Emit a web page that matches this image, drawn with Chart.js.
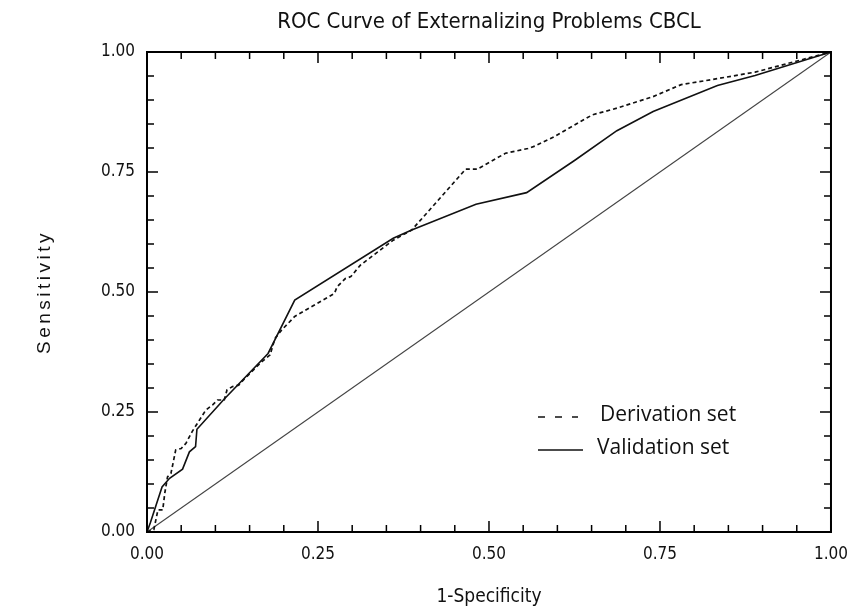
<!DOCTYPE html>
<html>
<head>
<meta charset="utf-8">
<script src="https://cdn.jsdelivr.net/npm/chart.js@4.4.0/dist/chart.umd.min.js"></script>
<style>
    html, body { margin: 0; padding: 0; background: #fff; }
    #wrap { width: 860px; height: 611px; }
</style>
</head>
<body>
<div id="wrap"><canvas id="roc"></canvas></div>
<script>
(function () {

    // ROC points (1-specificity, sensitivity)
    const derivationX = [0, 0.010, 0.016, 0.023, 0.026, 0.030, 0.035, 0.042, 0.050, 0.057, 0.066, 0.069, 0.086, 0.096, 0.103, 0.113, 0.117, 0.125, 0.134, 0.141, 0.168, 0.180, 0.187, 0.197, 0.216, 0.274, 0.278, 0.290, 0.298, 0.312, 0.360, 0.387, 0.466, 0.483, 0.524, 0.557, 0.567, 0.596, 0.651, 0.687, 0.740, 0.781, 0.836, 0.889, 1];
    const derivationY = [0, 0.005, 0.046, 0.046, 0.081, 0.115, 0.122, 0.171, 0.174, 0.185, 0.209, 0.216, 0.254, 0.265, 0.275, 0.275, 0.296, 0.303, 0.306, 0.317, 0.355, 0.369, 0.403, 0.421, 0.449, 0.497, 0.511, 0.528, 0.532, 0.556, 0.608, 0.629, 0.756, 0.756, 0.789, 0.799, 0.804, 0.824, 0.869, 0.883, 0.907, 0.932, 0.945, 0.958, 1];

    const validationX = [0, 0.005, 0.022, 0.033, 0.052, 0.062, 0.071, 0.073, 0.113, 0.177, 0.216, 0.360, 0.387, 0.481, 0.555, 0.625, 0.687, 0.740, 0.834, 0.889, 1];
    const validationY = [0, 0.020, 0.094, 0.112, 0.131, 0.167, 0.178, 0.214, 0.277, 0.372, 0.483, 0.612, 0.629, 0.683, 0.707, 0.774, 0.836, 0.876, 0.930, 0.951, 1];

    const chanceX = [0, 1];
    const chanceY = [0, 1];

    const tickLabels = ['0.00', '0.25', '0.50', '0.75', '1.00'];

    const narrow = '"Liberation Sans Narrow", "Arial Narrow", "DejaVu Sans Condensed", sans-serif';

    let pts = function (xs, ys) {
        return xs.map(function (v, i) {
            return {x: v, y: ys[i]};
        });
    };

    // inward ticks on all four sides + frame
    const frame = {
        id: 'frame',
        afterDraw: function (chart) {
            const ctx = chart.ctx;
            const a = chart.chartArea;
            const sx = chart.scales.x, sy = chart.scales.y;
            ctx.save();
            ctx.strokeStyle = '#000';
            ctx.lineWidth = 2;
            ctx.strokeRect(a.left, a.top, a.right - a.left, a.bottom - a.top);
            ctx.lineWidth = 1.5;
            ctx.beginPath();
            for (let i = 0; i <= 20; i++) {
                const len = i % 5 === 0 ? 11 : 7;
                const px = sx.getPixelForValue(i / 20);
                const py = sy.getPixelForValue(i / 20);
                ctx.moveTo(px, a.bottom); ctx.lineTo(px, a.bottom - len);
                ctx.moveTo(px, a.top); ctx.lineTo(px, a.top + len);
                ctx.moveTo(a.left, py); ctx.lineTo(a.left + len, py);
                ctx.moveTo(a.right, py); ctx.lineTo(a.right - len, py);
            }
            ctx.stroke();

            // y title, spaced letters
            ctx.fillStyle = '#111';
            ctx.font = '19px "Liberation Sans", Arial, sans-serif';
            ctx.letterSpacing = '3.5px';
            ctx.textAlign = 'center';
            ctx.textBaseline = 'middle';
            ctx.translate(45, (a.top + a.bottom) / 2);
            ctx.rotate(-Math.PI / 2);
            ctx.fillText('Sensitivity', 0, 0);
            ctx.restore();

            // legend inside the plot
            ctx.save();
            ctx.font = '21px "Open Sans", "Noto Sans", sans-serif';
            ctx.textBaseline = 'middle';
            ctx.fillStyle = '#111';
            const rows = [{ds: chart.data.datasets[0], y: 417, x0: 538, x1: 578, tx: 600},
                          {ds: chart.data.datasets[1], y: 450, x0: 538, x1: 583, tx: 597}];
            rows.forEach(function (r) {
                ctx.strokeStyle = '#111';
                ctx.lineWidth = 1.7;
                ctx.setLineDash(r.ds.borderDash && r.ds.borderDash.length ? [7, 10] : []);
                ctx.beginPath();
                ctx.moveTo(r.x0, r.y);
                ctx.lineTo(r.x1, r.y);
                ctx.stroke();
                ctx.fillText(r.ds.label, r.tx, r.y - 2);
            });
            ctx.restore();
        }
    };

    const data = {
        datasets: [{
                label: 'Derivation set',
                data: pts(derivationX, derivationY),
                borderColor: '#111',
                borderWidth: 1.7,
                borderDash: [4, 3],
                showLine: true,
                pointRadius: 0,
                tension: 0
            }, {
                label: 'Validation set',
                data: pts(validationX, validationY),
                borderColor: '#111',
                borderWidth: 1.6,
                showLine: true,
                pointRadius: 0,
                tension: 0
            }, {
                label: 'chance',
                data: pts(chanceX, chanceY),
                borderColor: '#444',
                borderWidth: 1.1,
                showLine: true,
                pointRadius: 0
            }]
    };

    const config = {
        type: 'scatter',
        data: data,
        plugins: [frame],
        options: {
            animation: false,
            responsive: true,
            maintainAspectRatio: false,
            clip: false,
            layout: {
                padding: {left: 0, right: 20, top: 0, bottom: 0}
            },
            scales: {
                x: {
                    type: 'linear',
                    min: 0,
                    max: 1,
                    afterFit: function (s) { s.height = 79; },
                    grid: {display: false, drawTicks: false},
                    border: {display: false},
                    ticks: {
                        stepSize: 0.25,
                        padding: 12,
                        color: '#111',
                        font: {family: narrow, size: 17},
                        callback: function (v, i) { return tickLabels[i]; }
                    },
                    title: {
                        display: true,
                        text: '1-Specificity',
                        color: '#111',
                        font: {family: narrow, size: 19},
                        padding: {top: 0, bottom: 3}
                    }
                },
                y: {
                    type: 'linear',
                    min: 0,
                    max: 1,
                    afterFit: function (s) { s.width = 147; },
                    grid: {display: false, drawTicks: false},
                    border: {display: false},
                    ticks: {
                        stepSize: 0.25,
                        padding: 12,
                        color: '#111',
                        font: {family: narrow, size: 17},
                        callback: function (v, i) { return tickLabels[i]; }
                    }
                }
            },
            plugins: {
                title: {
                    display: true,
                    fullSize: false,
                    text: 'ROC Curve of Externalizing Problems CBCL',
                    color: '#111',
                    font: {family: narrow, size: 22, weight: 'normal'},
                    padding: {top: 9, bottom: 16.6}
                },
                legend: {display: false},
                tooltip: {enabled: false}
            }
        }
    };

    const myChart = new Chart(document.getElementById('roc').getContext('2d'), config);

})();
</script>
</body>
</html>
